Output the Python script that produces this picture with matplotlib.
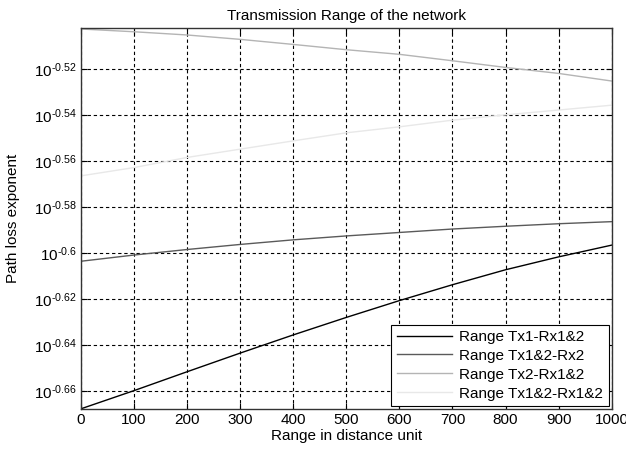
import numpy as np
import matplotlib
matplotlib.use("Agg")
import matplotlib.pyplot as plt
from matplotlib.ticker import FixedLocator, NullLocator

plt.rcParams["font.family"] = ["Liberation Sans", "DejaVu Sans"]
plt.rcParams["mathtext.fontset"] = "custom"
plt.rcParams["mathtext.rm"] = "Liberation Sans"
plt.rcParams["mathtext.it"] = "Liberation Sans:italic"

# distance steps
distance = [0, 100, 200, 300, 400, 500, 600, 700, 800, 900, 1000]

# path loss exponents (log10 of the plotted value)
tx1_rx12 = [-0.6676, -0.6597, -0.6515, -0.6434, -0.6355, -0.6279,
            -0.6206, -0.6137, -0.6072, -0.6016, -0.5965]
tx12_rx2 = [-0.6035, -0.6008, -0.5984, -0.5962, -0.5942, -0.5925,
            -0.5910, -0.5895, -0.5883, -0.5872, -0.5863]
tx2_rx12 = [-0.5026, -0.5038, -0.5052, -0.5071, -0.5093, -0.5116,
            -0.5136, -0.5164, -0.5193, -0.5219, -0.5252]
tx12_rx12 = [-0.5664, -0.5628, -0.5584, -0.5548, -0.5512, -0.5477,
             -0.5451, -0.5422, -0.5399, -0.5378, -0.5357]

labels = ["Range Tx1-Rx1&2", "Range Tx1&2-Rx2",
          "Range Tx2-Rx1&2", "Range Tx1&2-Rx1&2"]
colors = ["#000000", "#5a5a5a", "#b4b4b4", "#e8e8e8"]

ytick_exp = [-0.66, -0.64, -0.62, -0.6, -0.58, -0.56, -0.54, -0.52]
ytick_labels = ["-0.66", "-0.64", "-0.62", "-0.6", "-0.58", "-0.56", "-0.54", "-0.52"]

FS = 11


def main():
    fig = plt.figure(figsize=(6.26, 4.53), dpi=100)
    ax = fig.add_axes([0.1294, 0.0971, 0.8477, 0.8404])

    series = [tx1_rx12, tx12_rx2, tx2_rx12, tx12_rx12]
    for s, lab, c in zip(series, labels, colors):
        ax.plot(distance, np.power(10.0, s), color=c, linewidth=1.0, label=lab)

    ax.set_yscale("log")
    ax.set_xlim(0, 1000)
    ax.set_ylim(10 ** -0.6677, 10 ** -0.5023)
    ax.set_xticks(range(0, 1001, 100))
    ax.yaxis.set_major_locator(FixedLocator([10 ** e for e in ytick_exp]))
    ax.yaxis.set_minor_locator(NullLocator())
    ax.set_yticklabels([r"$10^{\text{%s}}$" % t for t in ytick_labels])

    ax.tick_params(direction="in", length=4, width=0.8, labelsize=FS,
                   top=True, right=True, colors="black", pad=3)
    ax.grid(True, color="black", linestyle=(0, (3, 2.5)), linewidth=0.8)
    for sp in ax.spines.values():
        sp.set_linewidth(1.0)
        sp.set_color("#333333")

    ax.set_title("Transmission Range of the network", fontsize=FS, pad=6)
    ax.set_xlabel("Range in distance unit", fontsize=FS, labelpad=1)
    ax.set_ylabel("Path loss exponent", fontsize=FS)
    ax.yaxis.set_label_coords(-0.115, 0.5)

    leg = ax.legend(loc="lower right", fontsize=FS, handlelength=3.6,
                    fancybox=False, edgecolor="black", framealpha=1,
                    borderaxespad=0.2, labelspacing=0.32, borderpad=0.35,
                    handletextpad=0.5)
    leg.get_frame().set_linewidth(0.8)

    fig.savefig("out.png", dpi=100)


if __name__ == "__main__":
    main()
